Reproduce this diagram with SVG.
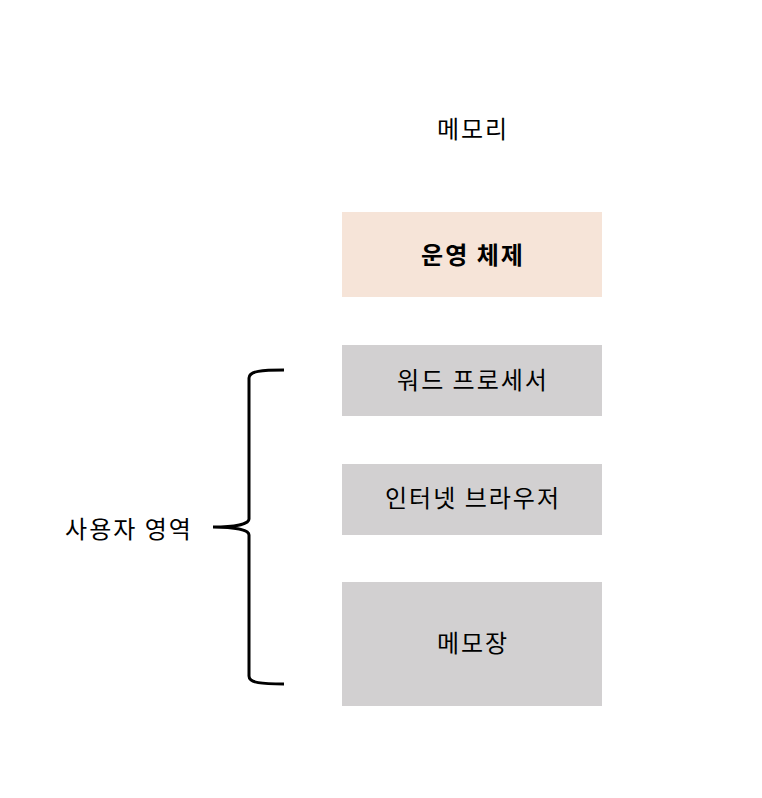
<svg xmlns="http://www.w3.org/2000/svg" width="762" height="798" viewBox="0 0 762 798">
<style>
text{font-family:"Noto Sans CJK KR","Noto Sans",sans-serif;font-size:24px;letter-spacing:2px;fill:#000;text-anchor:middle;dominant-baseline:central}
.os{fill:#f6e4d8}
.app{fill:#d2d0d1}
.b{font-weight:bold}
</style>
<rect width="762" height="798" fill="#fff"/>
<g id="title"><text x="473" y="127">메모리</text></g>
<g id="os"><rect class="os" x="342" y="212" width="260" height="85"/><text class="b" x="473" y="253">운영 체제</text></g>
<g id="word"><rect class="app" x="342" y="345" width="260" height="71"/><text x="473" y="378">워드 프로세서</text></g>
<g id="browser"><rect class="app" x="342" y="464" width="260" height="71"/><text x="473" y="496">인터넷 브라우저</text></g>
<g id="notepad"><rect class="app" x="342" y="582" width="260" height="124"/><text x="473" y="641">메모장</text></g>
<g id="connectors">
<path d="M284,370 C262,370 249,371 249,378 L249,519 C249,524 235,527 213,527 C235,527 249,530 249,535 L249,676 C249,683 262,684 284,684" fill="none" stroke="#000" stroke-width="3"/>
</g>
<g id="user"><text x="129" y="527">사용자 영역</text></g>
</svg>
